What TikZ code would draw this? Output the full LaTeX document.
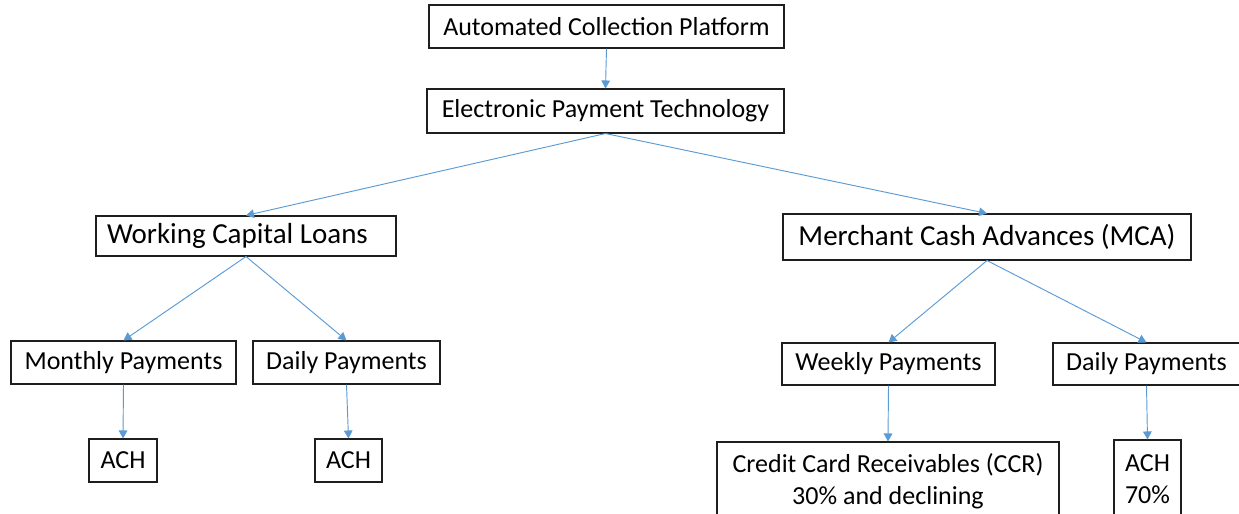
\documentclass[tikz,border=0pt]{standalone}
\usepackage{fontspec}
\setmainfont{Carlito}
\usetikzlibrary{arrows.meta}
\definecolor{linkblue}{RGB}{91,155,213}
\definecolor{edge}{RGB}{30,30,30}
\tikzset{
  box/.style={draw=edge, line width=0.8pt, inner sep=0pt, align=center,
    font=\fontsize{19.5}{24}\selectfont},
  bigbox/.style={box, font=\fontsize{21.75}{26}\selectfont},
  link/.style={draw=linkblue, line width=0.7pt,
    -{Triangle[length=6pt,width=6.5pt]}}
}
\begin{document}
\begin{tikzpicture}[x=0.75pt, y=-0.75pt]
  \fill[white] (0,0) rectangle (1239,514);
  \clip (0,0) rectangle (1239,514);

  % top of the tree
  \node[box, minimum width=266.25pt, minimum height=32.25pt] (acp) at (606.5,26.5) {Automated Collection Platform};
  \node[box, minimum width=267.75pt, minimum height=33pt] (ept) at (605.5,111) {Electronic Payment Technology};

  % product lines
  \node[bigbox, minimum height=30pt, inner xsep=8.25pt] (wcl) at (246,236) {\makebox[208.5pt][l]{Working Capital Loans}};
  \node[bigbox, minimum width=306pt, minimum height=34.5pt] (mca) at (987,237) {Merchant Cash Advances (MCA)};

  % payment schedules
  \node[box, minimum width=168.75pt, minimum height=32.25pt] (monthly) at (123.5,362.5) {Monthly Payments};
  \node[box, minimum width=140.25pt, minimum height=32.25pt] (dailyl) at (346.5,362.5) {Daily Payments};
  \node[box, minimum width=159.75pt, minimum height=31.5pt] (weekly) at (888.5,364) {Weekly Payments};
  \node[box, minimum width=140.25pt, minimum height=31.5pt] (dailyr) at (1146.5,364) {Daily Payments};

  % collection methods
  \node[box, minimum width=51pt, minimum height=32.25pt] (ach1) at (123,460.5) {ACH};
  \node[box, minimum width=50.25pt, minimum height=32.25pt] (ach2) at (348.5,460.5) {ACH};
  \node[box, minimum width=256.5pt, minimum height=58.5pt] (ccr) at (888,481) {Credit Card Receivables (CCR)\\30\% and declining};
  \node[box, minimum width=50.25pt, minimum height=58.5pt] (ach3) at (1147.5,479) {ACH\\70\%};

  % connectors
  \draw[link] (acp.south) -- (ept.north);
  \draw[link] (ept.south) -- (wcl.north);
  \draw[link] (ept.south) -- (mca.north);
  \draw[link] (wcl.south) -- (monthly.north);
  \draw[link] (wcl.south) -- (dailyl.north);
  \draw[link] (mca.south) -- (weekly.north);
  \draw[link] (mca.south) -- (dailyr.north);
  \draw[link] (monthly.south) -- (ach1.north);
  \draw[link] (dailyl.south) -- (ach2.north);
  \draw[link] (weekly.south) -- (ccr.north);
  \draw[link] (dailyr.south) -- (ach3.north);
\end{tikzpicture}
\end{document}
